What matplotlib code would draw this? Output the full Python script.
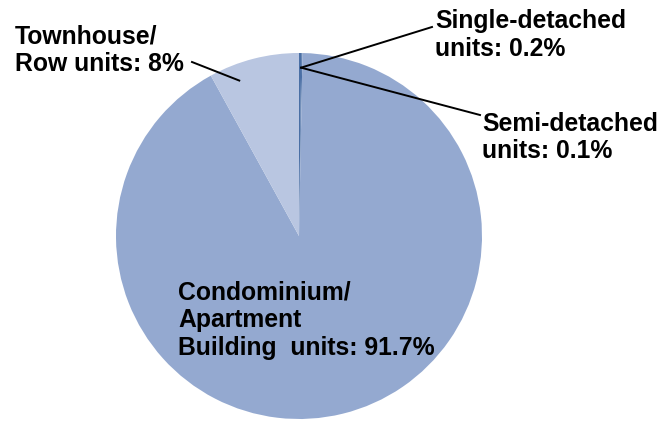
import matplotlib.pyplot as plt
import numpy as np

# shares of dwelling units (%), clockwise from 12 o'clock
categories = ["Single-detached", "Semi-detached", "Condominium/Apartment", "Townhouse/Row"]
shares = [0.2, 0.1, 91.7, 8.0]
label_texts = ["Single-detached\nunits: 0.2%",
               "Semi-detached\nunits: 0.1%",
               "Condominium/\nApartment\nBuilding  units: 91.7%",
               "Townhouse/\nRow units: 8%"]
colors = ["#4a6fa5", "#4a6fa5", "#94a9d0", "#b9c6e1"]

W, H = 663, 421
fig = plt.figure(figsize=(W / 100, H / 100), dpi=100, facecolor="white")
ax = fig.add_axes([0, 0, 1, 1])

# pie laid out in pixel-like coordinates (y measured upward)
cx, cy, R = 299, H - 236, 183
wedges, _ = ax.pie(shares, colors=colors, startangle=90, counterclock=False,
                   center=(cx, cy), radius=R, wedgeprops=dict(linewidth=0))
ax.set_xlim(0, W)
ax.set_ylim(0, H)
ax.set_aspect("equal")
ax.axis("off")


def anchor(w, frac, rfrac):
    ang = np.deg2rad(w.theta1 + frac * (w.theta2 - w.theta1))
    return cx + rfrac * R * np.cos(ang), cy + rfrac * R * np.sin(ang)


font = dict(family="Liberation Sans", weight="bold", fontsize=17.8, color="black")

# leader lines
a_small = anchor(wedges[1], 1.0, 0.92)
ax.plot([a_small[0], 432], [a_small[1], H - 27], color="black", lw=1.4)
ax.plot([a_small[0], 480], [a_small[1], H - 115], color="black", lw=1.4)
a_town = anchor(wedges[3], 0.73, 0.91)
ax.plot([a_town[0], 192], [a_town[1], H - 62], color="black", lw=1.4)

# labels
ax.text(435, H - 9, label_texts[0], ha="left", va="top", linespacing=1.2, **font)
ax.text(482, H - 112, label_texts[1], ha="left", va="top", linespacing=1.15, **font)
ax.text(178, H - 281, label_texts[2], ha="left", va="top", linespacing=1.18, **font)
ax.text(15, H - 24, label_texts[3], ha="left", va="top", linespacing=1.2, **font)

fig.savefig("out.png", dpi=100, facecolor="white")
